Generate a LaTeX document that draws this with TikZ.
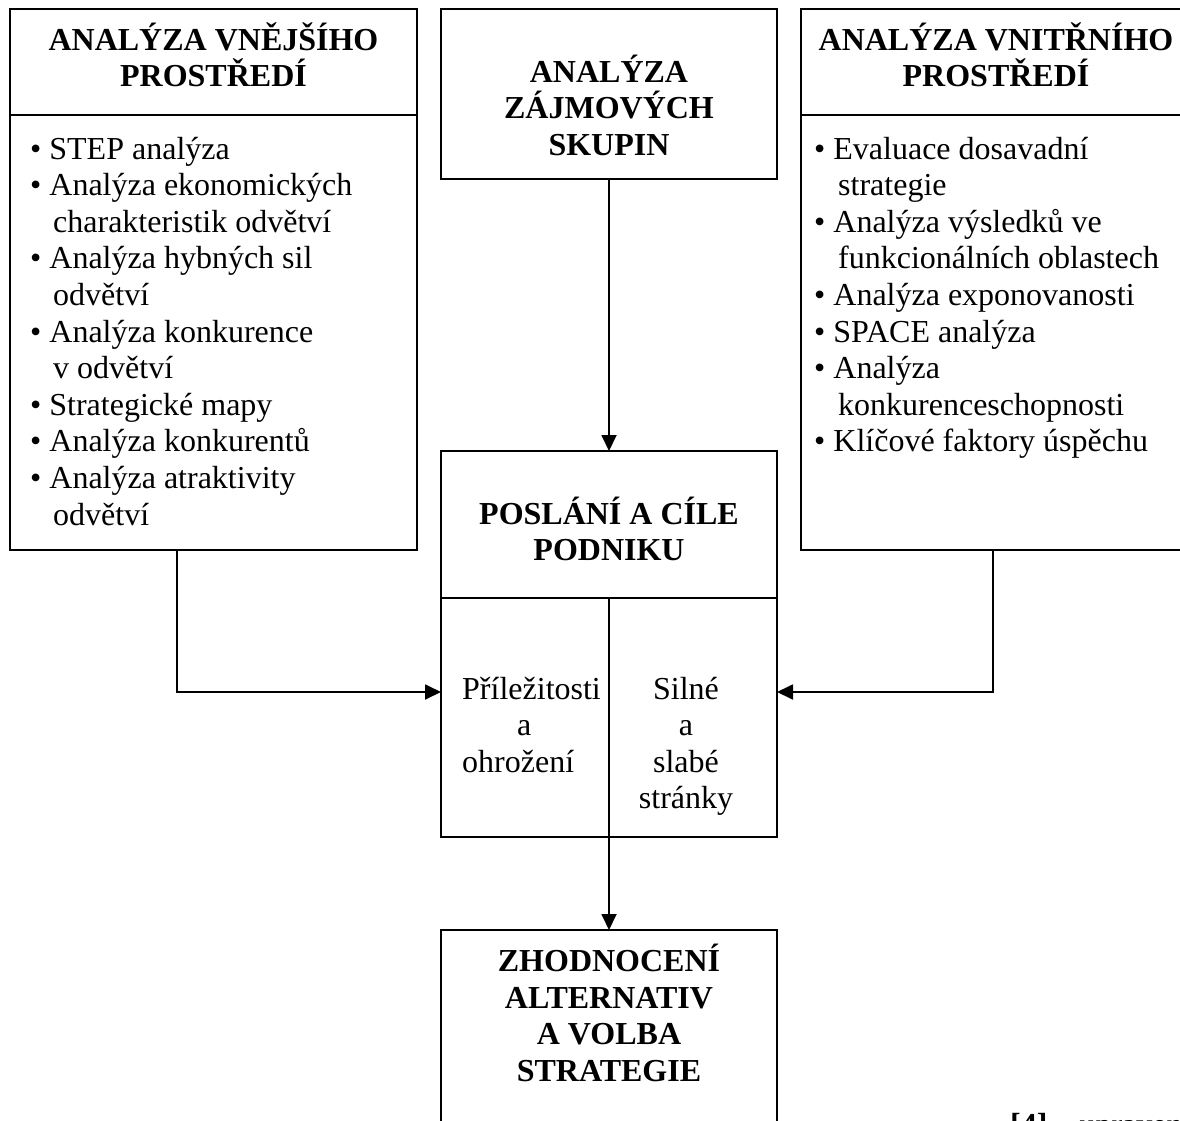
\documentclass[tikz,border=0pt]{standalone}
\usepackage{fontspec}
\setmainfont{Liberation Serif}
\usetikzlibrary{arrows.meta}

\tikzset{
  frame/.style={draw, line width=1.8pt, anchor=north west, inner sep=0pt, outer sep=0pt},
  conn/.style={line width=1.8pt},
  arr/.style={conn, -{Triangle[length=16pt,width=15pt]}},
  txt/.style={inner sep=0pt, font=\fontsize{32}{36.6}\selectfont},
  head/.style={txt, align=center, anchor=base, font=\fontsize{32}{36.4}\selectfont\bfseries},
}

\begin{document}
\begin{tikzpicture}[x=1pt,y=-1pt]
\useasboundingbox (0,0) rectangle (1180,1121);

% boxes
\node[frame, minimum width=407pt, minimum height=541pt] (ext) at (10,9) {};
\node[frame, minimum width=392pt, minimum height=541pt] (int) at (801,9) {};
\node[frame, minimum width=336pt, minimum height=170pt] (stake) at (441,9) {};
\node[frame, minimum width=336pt, minimum height=386pt] (goals) at (441,451) {};
\node[frame, minimum width=336pt, minimum height=250pt] (eval) at (441,930) {};

% header and cell dividers
\draw[conn] (ext.west |- 0,115) -- (ext.east |- 0,115);
\draw[conn] (int.west |- 0,115) -- (int.east |- 0,115);
\draw[conn] (goals.west |- 0,598) -- (goals.east |- 0,598);
\draw[conn] (goals.south) -- (goals.south |- 0,598);

% headings (anchored at the baseline of their last line)
\node[head] (extH) at (213.5,87) {ANALÝZA VNĚJŠÍHO\\PROSTŘEDÍ};
\node[head] (intH) at (996,87) {ANALÝZA VNITŘNÍHO\\PROSTŘEDÍ};
\node[head] (stakeT) at (609,155) {ANALÝZA\\ZÁJMOVÝCH\\SKUPIN};
\node[head] (goalsT) at (609,560.5) {POSLÁNÍ A CÍLE\\PODNIKU};
\node[head] (evalT) at (609,1081) {ZHODNOCENÍ\\ALTERNATIV\\A VOLBA\\STRATEGIE};

% lists
\node[txt, align=left, anchor=base west] (extL) at (30,525) {%
• STEP analýza\\
• Analýza ekonomických\\
\hspace*{23pt}charakteristik odvětví\\
• Analýza hybných sil\\
\hspace*{23pt}odvětví\\
• Analýza konkurence\\
\hspace*{23pt}v odvětví\\
• Strategické mapy\\
• Analýza konkurentů\\
• Analýza atraktivity\\
\hspace*{23pt}odvětví};

\node[txt, align=left, anchor=base west] (intL) at (814,451.8) {%
• Evaluace dosavadní\\
\hspace*{24pt}strategie\\
• Analýza výsledků ve\\
\hspace*{24pt}funkcionálních oblastech\\
• Analýza exponovanosti\\
• SPACE analýza\\
• Analýza\\
\hspace*{24pt}konkurenceschopnosti\\
• Klíčové faktory úspěchu};

% SWOT cells
\node[txt, align=left, anchor=base west] (oppT) at (462,772.2) {Příležitosti\\\hspace*{55pt}a\\ohrožení};
\node[txt, align=center, anchor=base] (strT) at (686,808.8) {Silné\\a\\slabé\\stránky};

% source note
\node[txt, anchor=base west] (foot) at (1010,1135) {\textbf{[4]} -- upraveno};

% connectors
\coordinate (extout) at (177,550);
\coordinate (intout) at (993,550);
\coordinate (swot) at (609,692);
\draw[arr] (stake.south) -- (goals.north);
\draw[arr] (extout) |- (goals.west |- swot);
\draw[arr] (intout) |- (goals.east |- swot);
\draw[arr] (goals.south) -- (eval.north);
\end{tikzpicture}
\end{document}
